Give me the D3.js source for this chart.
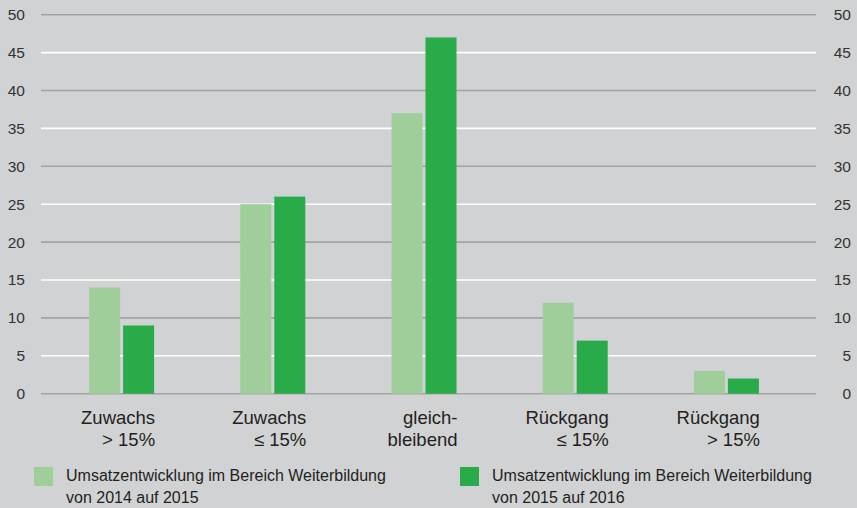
<html>
<head>
<meta charset="utf-8">
<script src="https://cdn.jsdelivr.net/npm/d3@7/dist/d3.min.js"></script>
<style>
  body { margin: 0; background: #d1d2d4; }
  svg { display: block; font-family: "Liberation Sans", Arial, sans-serif; }
</style>
</head>
<body>
<svg></svg>
<script>
var categories = [["Zuwachs", "> 15%"], ["Zuwachs", "\u2264 15%"], ["gleich-", "bleibend"], ["R\u00fcckgang", "\u2264 15%"], ["R\u00fcckgang", "> 15%"]];
var series2015 = [14, 25, 37, 12, 3];
var series2016 = [9, 26, 47, 7, 2];
var seriesNames = [["Umsatzentwicklung im Bereich Weiterbildung", "von 2014 auf 2015"],
                   ["Umsatzentwicklung im Bereich Weiterbildung", "von 2015 auf 2016"]];
var colors = ["#9fce9b", "#29ab4a"];
var yTicks = [0, 5, 10, 15, 20, 25, 30, 35, 40, 45, 50];

(function() {
  var W = 857, H = 508;
  var svg = d3.select('svg').attr('width', W).attr('height', H);
  svg.append('rect').attr('width', W).attr('height', H).attr('fill', '#d1d2d4');

  var y = d3.scaleLinear().domain([0, 50]).range([393.7, 14.7]);
  var x0 = d3.scaleBand().domain(d3.range(categories.length)).range([46, 802])
             .paddingInner(0.57).paddingOuter(0.285);
  var x1 = d3.scaleBand().domain([0, 1]).range([0, x0.bandwidth()]).paddingInner(0.088);

  // gridlines: grey at tens, white at fives
  svg.selectAll('.grid')
     .data(yTicks)
     .enter()
     .append('line')
     .attr('x1', 41).attr('x2', 816)
     .attr('y1', function(d) { return y(d); })
     .attr('y2', function(d) { return y(d); })
     .attr('stroke', function(d) { return d % 10 === 0 ? '#a3a3a5' : '#ffffff'; })
     .attr('stroke-width', 1.6);

  // axis labels both sides
  var yl = d3.axisLeft(y).tickValues(yTicks).tickSize(0).tickPadding(0);
  var gl = svg.append('g').attr('transform', 'translate(25,0)').call(yl);
  var yr = d3.axisLeft(y).tickValues(yTicks).tickSize(0).tickPadding(0);
  var gr = svg.append('g').attr('transform', 'translate(851,0)').call(yr);
  [gl, gr].forEach(function(g) {
    g.select('.domain').remove();
    g.selectAll('text').attr('font-size', 15.5).attr('fill', '#333')
     .attr('font-family', '"Liberation Sans", Arial, sans-serif');
  });

  var data = [series2015, series2016];
  data.forEach(function(vals, s) {
    svg.selectAll('.bar' + s)
       .data(vals)
       .enter()
       .append('rect')
       .attr('x', function(d, i) { return x0(i) + x1(s); })
       .attr('y', function(d) { return y(d); })
       .attr('width', x1.bandwidth())
       .attr('height', function(d) { return y(0) - y(d); })
       .attr('fill', colors[s]);
  });

  // category labels, right aligned to the group
  var cl = svg.selectAll('.cat')
     .data(categories)
     .enter()
     .append('text')
     .attr('text-anchor', 'end')
     .attr('font-size', 18.5)
     .attr('fill', '#231f20');
  cl.each(function(d, i) {
    var t = d3.select(this);
    d.forEach(function(line, j) {
      t.append('tspan')
       .attr('x', x0(i) + x0.bandwidth() + 1)
       .attr('y', 424 + j * 22)
       .text(line);
    });
  });

  // legend
  var lx = [34, 460];
  seriesNames.forEach(function(lines, s) {
    svg.append('rect').attr('x', lx[s]).attr('y', 467).attr('width', 19).attr('height', 19)
       .attr('fill', colors[s]);
    lines.forEach(function(line, j) {
      svg.append('text').attr('x', lx[s] + 32).attr('y', 481 + j * 22)
         .attr('font-size', 16).attr('fill', '#231f20').text(line);
    });
  });
})();
</script>
</body>
</html>
